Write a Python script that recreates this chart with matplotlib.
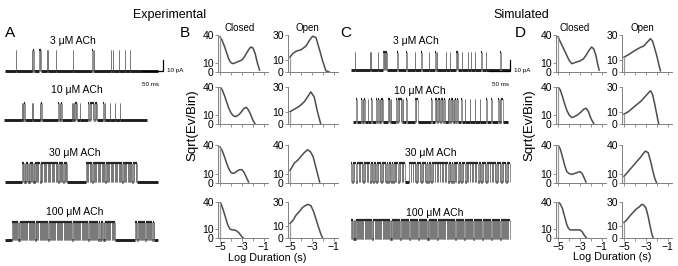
import matplotlib
matplotlib.use('Agg')
import matplotlib.pyplot as plt

plt.rcParams['font.family'] = ['Liberation Sans', 'DejaVu Sans']

# ---------------- single-channel traces (times in ms, openings as (start, duration)) -------------
conc_labels = ['3 \u03bcM ACh', '10 \u03bcM ACh', '30 \u03bcM ACh', '100 \u03bcM ACh']

open3_exp = [(27.8, 0.4), (64.1, 0.5), (67.8, 0.6), (81.0, 1.6), (83.8, 1.8), (98.9, 1.6),
             (102.0, 0.6), (120.4, 1.0), (159.0, 0.4), (204.4, 0.6), (207.8, 0.6), (247.7, 0.4),
             (253.0, 0.4), (266.2, 0.4), (280.1, 0.4), (291.7, 0.4)]
open10_exp = [(41.0, 1.2), (43.5, 1.4), (46.8, 1.8), (64.1, 0.8), (66.8, 1.0), (83.3, 0.8),
              (86.5, 0.8), (125.7, 2.0), (128.8, 1.6), (131.8, 1.7), (156.7, 1.0), (159.2, 1.4),
              (162.0, 1.0), (164.5, 1.6), (167.5, 0.8), (175.9, 0.6), (195.1, 2.6), (198.8, 2.2),
              (202.4, 3.0), (206.6, 2.0), (209.8, 2.6), (213.4, 1.2), (229.9, 2.2), (233.0, 0.8),
              (245.4, 0.6), (257.0, 0.6), (268.5, 0.5)]
clusters30_exp = [(41.0, 145.2), (189.8, 307.2)]
closures30_exp = [(44.0, 0.4), (47.2, 0.3), (49.5, 0.6), (52.8, 0.3), (56.3, 1.2), (59.0, 0.4),
                  (61.8, 0.3), (64.0, 0.5), (67.9, 1.0), (70.5, 0.3), (73.6, 0.4), (76.1, 0.6),
                  (79.4, 0.3), (83.3, 1.2), (86.0, 0.4), (88.7, 0.3), (91.9, 0.5), (95.2, 0.4),
                  (97.6, 0.3), (100.8, 0.6), (103.5, 0.3), (106.9, 0.4), (110.4, 1.3), (113.6, 0.4),
                  (116.2, 0.3), (119.5, 0.5), (122.1, 0.4), (125.8, 1.2), (128.7, 0.3), (131.4, 0.5),
                  (134.0, 0.4), (137.4, 1.1), (140.3, 0.3), (142.8, 0.4),
                  (192.6, 0.4), (195.1, 0.3), (198.4, 0.6), (201.0, 0.3), (204.7, 0.4), (207.3, 0.5),
                  (210.9, 0.3), (213.2, 0.4), (216.8, 0.6), (219.5, 0.3), (222.4, 0.4), (226.0, 1.2),
                  (229.1, 0.3), (231.7, 0.5), (234.9, 0.4), (237.6, 0.3), (240.8, 0.6), (243.5, 0.3),
                  (247.0, 1.3), (250.2, 0.4), (253.1, 0.3), (256.4, 0.5), (259.0, 0.4), (262.3, 0.3),
                  (265.1, 0.6), (268.0, 0.4), (270.6, 0.3), (273.9, 1.2), (277.0, 0.4), (279.8, 0.3),
                  (282.5, 0.5), (285.9, 0.4), (288.4, 0.3), (291.7, 0.6), (294.5, 0.4), (297.2, 0.3),
                  (300.6, 0.5), (304.8, 1.1)]
clusters100_exp = [(17.8, 257.0), (303.3, 347.3)]
closures100_exp_t = [20.5, 23.1, 25.8, 27.9, 30.6, 33.4, 35.7, 41.2, 43.9, 46.5, 48.8, 51.6,
                     54.0, 56.9, 59.3, 61.7, 64.5, 67.0, 69.4, 74.6, 77.2, 79.5, 82.3, 84.9, 87.1,
                     89.8, 92.6, 95.0, 97.7, 100.1, 105.4, 107.9, 110.3, 113.0, 115.8, 118.1,
                     124.8, 127.3, 130.1, 132.6, 135.0, 137.8, 140.3, 142.9, 145.5, 147.8, 150.6,
                     153.2, 155.5, 158.3, 160.9, 163.2, 166.0, 168.4, 171.1, 173.7, 176.2, 182.6,
                     185.1, 187.7, 190.3, 192.8, 195.6, 198.1, 200.5, 205.8, 208.3, 210.9, 213.4,
                     216.0, 218.7, 224.9, 227.5, 230.1, 232.6, 235.3, 237.9, 240.4, 243.1, 245.6,
                     252.0, 254.6, 306.1, 308.8, 311.6, 314.0, 316.9, 319.4, 322.2, 324.7, 327.5,
                     333.0, 335.6, 338.4, 341.0, 343.7, 346.1]
closures100_exp_long = [38.6, 71.8, 102.6, 122.0, 179.9, 203.0, 222.2, 249.3, 330.3]

open3_sim = [(12.3, 0.4), (45.6, 1.5), (48.0, 1.6), (64.8, 0.5), (76.4, 1.6), (79.5, 0.8),
             (82.0, 1.2), (84.0, 0.8), (109.5, 0.5), (130.3, 1.5), (149.8, 1.4), (165.2, 1.3),
             (182.2, 0.5), (197.5, 1.8), (200.6, 1.2), (221.4, 0.5), (230.7, 0.6), (246.0, 1.0),
             (248.4, 1.0), (259.3, 0.5), (273.2, 0.4), (279.4, 0.4), (288.7, 0.4), (304.0, 0.4),
             (315.5, 0.4), (347.9, 1.2)]
open10_sim = [(14.6, 0.5), (26.0, 1.5), (29.5, 1.2), (32.5, 1.5), (41.7, 0.6), (49.4, 0.8),
              (61.0, 2.5), (64.8, 2.0), (68.5, 1.5), (71.5, 2.5), (75.0, 1.0), (88.0, 1.2),
              (91.0, 0.6), (94.5, 1.1), (107.0, 2.8), (111.0, 2.0), (114.5, 3.0), (118.8, 2.2),
              (121.8, 0.9), (130.4, 0.7), (149.7, 2.5), (153.5, 3.9), (188.3, 0.6), (196.0, 2.0),
              (199.5, 2.8), (203.6, 1.4), (206.5, 2.0), (210.0, 2.6), (214.0, 1.5), (217.0, 2.0),
              (226.9, 1.0), (230.0, 2.5), (234.2, 1.0), (237.0, 1.8), (240.5, 0.8), (243.5, 2.2),
              (247.0, 3.0), (257.7, 0.6), (265.5, 0.8), (277.0, 1.0), (288.6, 0.8), (300.2, 0.6),
              (315.6, 0.8), (327.1, 0.6), (342.6, 2.5), (346.5, 1.5), (350.5, 3.7)]
clusters30_sim = [(3.0, 370.0)]
closures30_sim = [(5.0, 2.0), (14.7, 1.8), (30.1, 1.5), (45.5, 2.0), (61.0, 1.6), (72.5, 1.5),
                  (88.0, 2.0), (99.5, 1.4), (111.1, 1.8), (126.6, 11.0), (153.6, 1.8), (165.2, 1.5),
                  (180.6, 2.0), (196.0, 1.6), (207.6, 1.8), (226.9, 2.0), (238.5, 1.5), (250.0, 1.8),
                  (265.5, 2.0), (277.0, 1.5), (296.3, 2.0), (311.7, 1.6), (323.3, 1.8), (334.9, 1.5),
                  (350.3, 2.0), (361.8, 1.6),
                  (9.5, 0.3), (19.8, 0.3), (23.4, 0.3), (26.7, 0.3), (35.2, 0.3), (39.0, 0.3),
                  (41.8, 0.3), (50.3, 0.3), (54.1, 0.3), (57.6, 0.3), (65.4, 0.3), (68.9, 0.3),
                  (76.8, 0.3), (80.6, 0.3), (84.2, 0.3), (92.5, 0.3), (95.9, 0.3), (103.8, 0.3),
                  (107.2, 0.3), (115.6, 0.3), (119.4, 0.3), (122.9, 0.3), (142.0, 0.3), (146.3, 0.3),
                  (149.8, 0.3), (157.9, 0.3), (161.4, 0.3), (169.5, 0.3), (173.2, 0.3), (176.8, 0.3),
                  (184.9, 0.3), (188.6, 0.3), (192.1, 0.3), (200.3, 0.3), (203.9, 0.3), (212.0, 0.3),
                  (215.7, 0.3), (219.3, 0.3), (222.8, 0.3), (231.2, 0.3), (234.7, 0.3), (242.6, 0.3),
                  (246.1, 0.3), (254.4, 0.3), (258.0, 0.3), (261.6, 0.3), (269.8, 0.3), (273.3, 0.3),
                  (281.4, 0.3), (285.0, 0.3), (288.7, 0.3), (292.4, 0.3), (300.6, 0.3), (304.2, 0.3),
                  (307.9, 0.3), (315.9, 0.3), (319.5, 0.3), (327.6, 0.3), (331.2, 0.3), (339.0, 0.3),
                  (342.7, 0.3), (346.4, 0.3), (354.6, 0.3), (358.1, 0.3), (365.9, 0.3)]
clusters100_sim = [(3.0, 370.0)]
closures100_sim_t = [5.2, 7.9, 10.3, 12.6, 15.4, 18.1, 20.5, 22.8, 25.9, 28.3, 30.6, 33.7, 36.0,
                     38.4, 41.5, 43.9, 46.2, 49.1, 51.8, 54.0, 57.2, 59.6, 62.1, 64.8, 67.5, 69.9,
                     72.4, 75.3, 77.7, 80.2, 83.0, 85.6, 88.1, 90.7, 93.5, 95.8, 98.6, 101.1, 103.7,
                     106.4, 108.8, 111.5, 114.2, 116.6, 119.3, 121.9, 124.4, 127.2, 129.7, 132.3,
                     134.8, 137.6, 140.1, 142.7, 145.4, 147.9, 150.5, 153.2, 155.6, 158.4, 160.9,
                     163.5, 166.1, 168.8, 171.2, 174.0, 176.5, 179.1, 181.7, 184.3, 186.9, 189.6,
                     192.0, 194.8, 197.3, 199.9, 202.5, 205.0, 207.8, 210.3, 212.9, 215.6, 218.1,
                     220.7, 223.4, 225.8, 228.6, 231.1, 233.7, 236.3, 238.9, 241.5, 244.2, 246.6,
                     249.4, 251.9, 254.5, 257.2, 259.6, 262.4, 264.9, 267.5, 270.2, 272.6, 275.4,
                     277.9, 280.5, 283.1, 285.7, 288.4, 290.8, 293.6, 296.1, 298.7, 301.3, 303.9,
                     306.5, 309.2, 311.6, 314.4, 316.9, 319.5, 322.2, 324.6, 327.4, 329.9, 332.5,
                     335.1, 337.8, 340.2, 343.0, 345.5, 348.1, 350.8, 353.2, 356.0, 358.5, 361.1,
                     363.7, 366.4]

# open-channel amplitude (pA) and recorded stretch (ms) of each trace
amps_exp = [18.2, 15.5, 17.3, 16.4]
amps_sim = [16.4, 20.5, 17.0, 16.4]
extent_exp = [(2.3, 356.5), (0.0, 331.0), (2.3, 356.5), (2.3, 356.5)]
extent_sim = [(3.0, 369.5), (7.0, 366.0), (3.0, 370.0), (3.0, 370.0)]

# ---------------- dwell-time histograms: log10 duration (s) vs sqrt(events/bin) ----------------
ex_closed = [
    ([-5.0, -4.8, -4.6, -4.4, -4.2, -4.0, -3.8, -3.6, -3.4, -3.2, -3.0, -2.8, -2.6, -2.4, -2.2, -2.0, -1.8, -1.6, -1.4],
     [38, 34, 28, 21, 14, 10, 9, 10, 11, 12, 13, 16, 20, 24, 27, 26, 20, 10, 2]),
    ([-5.0, -4.8, -4.6, -4.4, -4.2, -4.0, -3.8, -3.6, -3.4, -3.2, -3.0, -2.8, -2.6, -2.4, -2.2, -2.0, -1.8],
     [40, 37, 31, 24, 17, 12, 9, 8, 9, 11, 14, 17, 18, 15, 10, 4, 0]),
    ([-5.0, -4.8, -4.6, -4.4, -4.2, -4.0, -3.8, -3.6, -3.4, -3.2, -3.0, -2.8, -2.6, -2.4],
     [38, 34, 28, 21, 15, 11, 10, 11, 13, 14, 14, 11, 6, 1]),
    ([-5.0, -4.9, -4.7, -4.5, -4.3, -4.1, -3.9, -3.7, -3.5, -3.3, -3.1, -2.9],
     [40, 38, 31, 23, 15, 10, 9, 9, 8, 6, 3, 0]),
]
ex_open = [
    ([-5.0, -4.75, -4.4, -4.0, -3.55, -3.2, -2.94, -2.64, -2.34, -2.03, -1.73, -1.43],
     [12, 15, 17, 18, 21, 26, 29, 28, 19, 9, 1, 0]),
    ([-5.0, -4.6, -4.3, -4.0, -3.7, -3.4, -3.1, -2.8, -2.5, -2.2],
     [10, 12, 13.5, 15.5, 18, 22, 26, 22, 10, 0]),
    ([-5.0, -4.8, -4.6, -4.3, -4.0, -3.7, -3.4, -3.15, -2.9, -2.7, -2.5, -2.3],
     [13, 17, 21, 24, 28, 32, 35, 33, 28, 19, 10, 1]),
    ([-5.0, -4.7, -4.45, -4.15, -3.85, -3.6, -3.39, -3.1, -2.85, -2.64, -2.4, -2.18, -2.03],
     [12, 15, 19, 22, 25.5, 27, 28, 27, 22, 16, 9, 3, 0]),
]
sim_closed = [
    ([-5.0, -4.8, -4.6, -4.4, -4.2, -4.0, -3.75, -3.5, -3.25, -3.0, -2.7, -2.45, -2.2, -1.94, -1.75, -1.55, -1.4, -1.25],
     [38, 33, 28, 23, 18, 13, 9, 10, 11, 12, 14, 18, 23, 27, 25, 18, 9, 2]),
    ([-5.0, -4.8, -4.6, -4.4, -4.2, -4.0, -3.75, -3.5, -3.2, -2.9, -2.65, -2.45, -2.25, -2.0, -1.73],
     [40, 37, 30, 22, 15, 10, 7, 8, 10, 13, 16, 17, 14, 6, 0]),
    ([-5.0, -4.8, -4.6, -4.4, -4.2, -4.0, -3.75, -3.5, -3.25, -3.0, -2.8, -2.6, -2.45],
     [40, 36, 28, 19, 12, 10, 9, 10, 11, 12, 10, 5, 1]),
    ([-5.0, -4.8, -4.6, -4.4, -4.2, -4.06, -3.9, -3.6, -3.3, -3.0, -2.8, -2.6, -2.4],
     [40, 38, 33, 24, 15, 11, 9, 9, 9, 9, 7, 3, 0]),
]
sim_open = [
    ([-5.0, -4.6, -4.25, -3.9, -3.5, -3.2, -2.9, -2.59, -2.4, -2.2, -1.98, -1.8, -1.68],
     [12, 14, 16, 18, 20, 21, 24, 27, 25, 19, 12, 5, 1]),
    ([-5.0, -4.6, -4.2, -3.8, -3.4, -3.0, -2.8, -2.59, -2.4, -2.2, -2.0, -1.84],
     [8, 10, 13, 16, 19, 23, 25, 27, 24, 16, 7, 0]),
    ([-5.0, -4.7, -4.4, -4.1, -3.8, -3.5, -3.25, -3.05, -2.8, -2.6, -2.4, -2.2, -2.03],
     [7, 11, 15, 19, 23, 27, 31, 33.5, 32, 24, 14, 5, 0]),
    ([-5.0, -4.75, -4.5, -4.2, -3.9, -3.6, -3.39, -3.2, -3.0, -2.8, -2.6, -2.45, -2.34],
     [13, 15, 18, 21, 24, 26, 28, 27.5, 25, 18, 9, 3, 0]),
]
ytop_closed = [40, 40, 40, 40]
ytop_open = [30, 30, 40, 30]

W, H = 678, 266
fig = plt.figure(figsize=(W / 100, H / 100), dpi=100)


def box(left, top, right, bottom):
    return [left / W, 1 - bottom / H, (right - left) / W, (bottom - top) / H]


def ftext(x, y, s, **kw):
    fig.text(x / W, 1 - y / H, s, **kw)


def openings(lst):
    return [(s, s + d) for s, d in lst]


def cluster_openings(clusters, closures):
    out = []
    closures = sorted(closures)
    for a, b in clusters:
        cur = a
        for t, d in closures:
            if t < a or t >= b:
                continue
            if t > cur:
                out.append((cur, t))
            cur = max(cur, t + d)
        if cur < b:
            out.append((cur, b))
    return out


MS_PER_PX = 50 / 21.6
T_MAX = 376.0
PX_PER_PA = 1.1
Y_LO, Y_HI = -4, 24


def trace_axes(left, base):
    bottom = base - Y_LO * PX_PER_PA
    top = bottom - (Y_HI - Y_LO) * PX_PER_PA
    ax = fig.add_axes(box(left, top, left + T_MAX / MS_PER_PX, bottom))
    ax.set_xlim(0, T_MAX)
    ax.set_ylim(Y_LO, Y_HI)
    ax.axis('off')
    return ax


def draw_trace(ax, t0, t1, opens, amp):
    opens = sorted(opens)
    closed = []
    cur = t0
    for a, b in opens:
        if a > cur:
            closed.append((cur, a))
        cur = max(cur, b)
    if cur < t1:
        closed.append((cur, t1))
    edges = [e for o in opens for e in o]
    ax.vlines(edges, [0] * len(edges), [amp] * len(edges), color='0.45', lw=0.55)
    ax.hlines([0] * len(closed), [c[0] for c in closed], [c[1] for c in closed],
              color='0.12', lw=2.1)
    ax.hlines([amp] * len(opens), [o[0] for o in opens], [o[1] for o in opens],
              color='0.15', lw=1.6)


def scale_bar(ax, xb):
    ax.plot([xb - 50, xb, xb], [-0.8, -0.8, 9.2], color='k', lw=0.9,
            clip_on=False, zorder=5, solid_joinstyle='miter')


exp_opens = [openings(open3_exp), openings(open10_exp),
             cluster_openings(clusters30_exp, closures30_exp),
             cluster_openings(clusters100_exp, [(t, 0.3) for t in closures100_exp_t] +
                              [(t, 1.2) for t in closures100_exp_long])]
sim_opens = [openings(open3_sim), openings(open10_sim),
             cluster_openings(clusters30_sim, closures30_sim),
             cluster_openings(clusters100_sim, [(t, 0.3) for t in closures100_sim_t])]

base_exp = [70.5, 120.0, 182.0, 240.0]
base_sim = [70.0, 121.5, 181.5, 238.5]
label_exp = [(73, 43.5), (77, 93), (75, 156.5), (75, 215)]
label_sim = [(416, 44), (420, 94), (431, 156.5), (435, 216.5)]

for i in range(4):
    ax = trace_axes(4, base_exp[i])
    draw_trace(ax, extent_exp[i][0], extent_exp[i][1], exp_opens[i], amps_exp[i])
    if i == 0:
        scale_bar(ax, 368.8)
    ftext(label_exp[i][0], label_exp[i][1], conc_labels[i], ha='center', va='baseline', fontsize=7.5)

    ax = trace_axes(350, base_sim[i])
    draw_trace(ax, extent_sim[i][0], extent_sim[i][1], sim_opens[i], amps_sim[i])
    if i == 0:
        scale_bar(ax, 371.5)
    ftext(label_sim[i][0], label_sim[i][1], conc_labels[i], ha='center', va='baseline', fontsize=7.5)

ftext(167, 70.5, '10 pA', ha='left', va='center', fontsize=4.5)
ftext(151, 85, '50 ms', ha='center', va='center', fontsize=4.5)
ftext(514, 70.5, '10 pA', ha='left', va='center', fontsize=4.5)
ftext(500, 85, '50 ms', ha='center', va='center', fontsize=4.5)

# ---------------- histogram grids ----------------
rows_px = [(35, 72), (87, 124), (145, 183), (202, 238)]
HW = 50


def hist_axes(left, row, ytop, xy, bottom_row):
    top, bottom = rows_px[row]
    ax = fig.add_axes(box(left, top, left + HW, bottom))
    x, y = xy
    ax.plot(x, y, color='0.65', lw=1.3)
    ax.plot(x, y, color='0.25', lw=0.75)
    ax.vlines([-4.97], [0], [y[0]], color='0.6', lw=0.9)
    ax.set_xlim(-5.18, -0.63)
    ax.set_ylim(0, ytop)
    for s in ['top', 'right']:
        ax.spines[s].set_visible(False)
    for s in ['left', 'bottom']:
        ax.spines[s].set_color('0.5')
        ax.spines[s].set_linewidth(0.7)
    ax.set_yticks([0, 10, ytop])
    ax.set_xticks([-5, -4, -3, -2, -1])
    if bottom_row:
        ax.set_xticklabels(['\u22125', '', '\u22123', '', '\u22121'])
    else:
        ax.set_xticklabels([])
    ax.tick_params(length=2, width=0.6, color='0.5', labelsize=7.5, pad=1)
    return ax


for r in range(4):
    hist_axes(218, r, ytop_closed[r], ex_closed[r], r == 3)
    hist_axes(288, r, ytop_open[r], ex_open[r], r == 3)
    hist_axes(556, r, ytop_closed[r], sim_closed[r], r == 3)
    hist_axes(622, r, ytop_open[r], sim_open[r], r == 3)

ftext(240, 31, 'Closed', ha='center', va='baseline', fontsize=7)
ftext(307, 31, 'Open', ha='center', va='baseline', fontsize=7)
ftext(575, 31, 'Closed', ha='center', va='baseline', fontsize=7)
ftext(642, 31, 'Open', ha='center', va='baseline', fontsize=7)

ftext(267, 258, 'Log Duration (s)', ha='center', va='center', fontsize=7.8)
ftext(612, 257, 'Log Duration (s)', ha='center', va='center', fontsize=7.8)
ftext(192, 125, 'Sqrt(Ev/Bin)', ha='center', va='center', rotation=90, fontsize=9.5)
ftext(529, 125, 'Sqrt(Ev/Bin)', ha='center', va='center', rotation=90, fontsize=9.5)

# ---------------- titles and panel letters ----------------
ftext(170, 18, 'Experimental', ha='center', va='baseline', fontsize=9)
ftext(521, 18, 'Simulated', ha='center', va='baseline', fontsize=9)
for letter, x, y in [('A', 10, 37), ('B', 185, 37), ('C', 346, 37), ('D', 520, 37)]:
    ftext(x, y, letter, ha='center', va='baseline', fontsize=11)

fig.savefig('out.png', dpi=100)
